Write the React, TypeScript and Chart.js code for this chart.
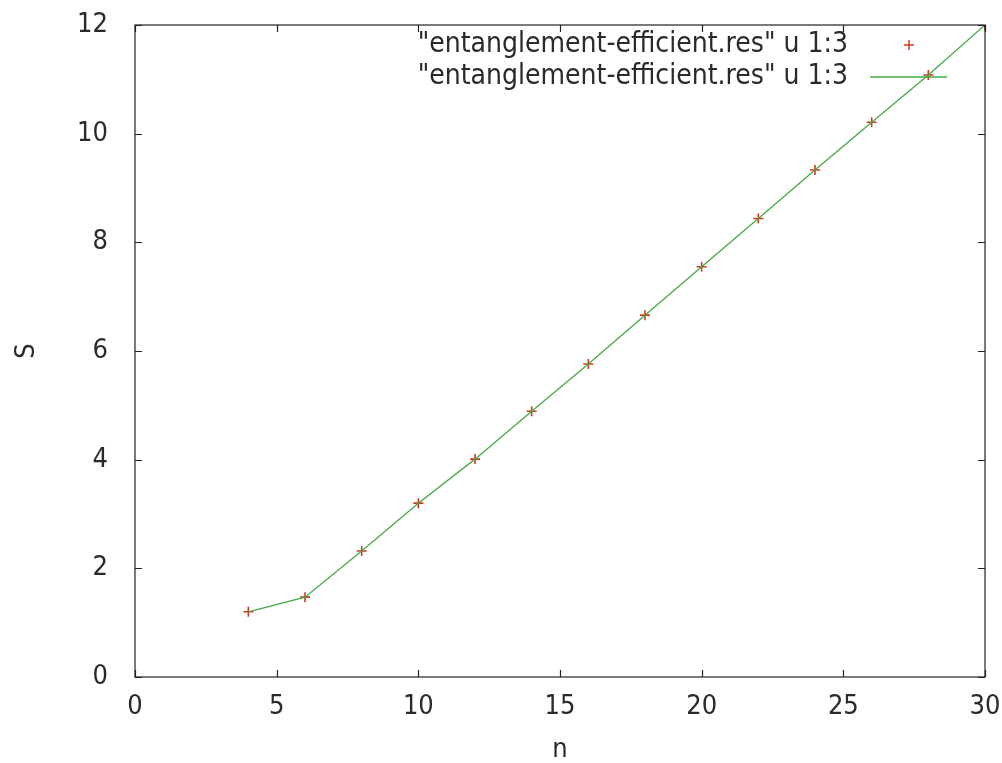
import React, { useEffect, useRef } from "react";
import { Chart, registerables } from "chart.js";

Chart.register(...registerables);

const nValues = [4, 6, 8, 10, 12, 14, 16, 18, 20, 22, 24, 26, 28, 30];
const sValues = [1.2, 1.47, 2.32, 3.2, 4.01, 4.89, 5.76, 6.66, 7.55, 8.44, 9.33, 10.21, 11.08, 12.0];
const legendLabels = ['"entanglement-efficient.res" u 1:3', '"entanglement-efficient.res" u 1:3'];
const xTitle = "n";
const yTitle = "S";

const FONT = '"DejaVu Sans Condensed", "DejaVu Sans", sans-serif';
const TEXT = "#2a2a2a";
const RED = "#cc3a22";
const GREEN = "#44aa44";

const framePlugin = {
  id: "gnuplotFrame",
  afterDatasetsDraw(chart: any) {
    const { ctx, chartArea, scales } = chart;
    const { left, right, top, bottom } = chartArea;
    ctx.save();
    ctx.strokeStyle = "#222";
    ctx.lineWidth = 1.2;
    ctx.strokeRect(left, top, right - left, bottom - top);
    const tl = 7;
    ctx.beginPath();
    scales.x.ticks.forEach((t: any) => {
      const px = Math.round(scales.x.getPixelForValue(t.value)) + 0.5;
      ctx.moveTo(px, bottom);
      ctx.lineTo(px, bottom - tl);
      ctx.moveTo(px, top);
      ctx.lineTo(px, top + tl);
    });
    scales.y.ticks.forEach((t: any) => {
      const py = Math.round(scales.y.getPixelForValue(t.value)) + 0.5;
      ctx.moveTo(left, py);
      ctx.lineTo(left + tl, py);
      ctx.moveTo(right, py);
      ctx.lineTo(right - tl, py);
    });
    ctx.stroke();

    // key (gnuplot style)
    ctx.font = `28px ${FONT}`;
    ctx.fillStyle = TEXT;
    ctx.textAlign = "right";
    ctx.textBaseline = "middle";
    const textRight = 848;
    const row1 = 45;
    const row2 = 77;
    ctx.fillText(legendLabels[0], textRight, row1);
    ctx.fillText(legendLabels[1], textRight, row2);
    ctx.strokeStyle = RED;
    ctx.lineWidth = 1.5;
    ctx.beginPath();
    ctx.moveTo(909 - 5, row1);
    ctx.lineTo(909 + 5, row1);
    ctx.moveTo(909, row1 - 5);
    ctx.lineTo(909, row1 + 5);
    ctx.stroke();
    ctx.strokeStyle = GREEN;
    ctx.lineWidth = 1.3;
    ctx.beginPath();
    ctx.moveTo(870, row2);
    ctx.lineTo(947, row2);
    ctx.stroke();
    ctx.restore();
  },
};

function zeroPad(scale: any) {
  scale.paddingLeft = 0;
  scale.paddingRight = 0;
  scale.paddingTop = 0;
  scale.paddingBottom = 0;
}

export default function App() {
  const ref = useRef<HTMLCanvasElement | null>(null);
  useEffect(() => {
    document.body.style.margin = "0";
    const canvas = ref.current;
    if (!canvas) return;
    const pts = nValues.map((n, i) => ({ x: n, y: sValues[i] }));
    const chart = new Chart(canvas, {
      type: "scatter",
      data: {
        datasets: [
          {
            label: legendLabels[0],
            data: pts,
            showLine: false,
            pointStyle: "cross",
            pointRadius: 5,
            pointBorderWidth: 1.6,
            borderColor: RED,
            backgroundColor: RED,
            order: 2,
          },
          {
            label: legendLabels[1],
            data: pts,
            showLine: true,
            borderColor: GREEN,
            borderWidth: 1.3,
            pointRadius: 0,
            fill: false,
            order: 1,
          },
        ],
      },
      options: {
        responsive: false,
        animation: false,
        devicePixelRatio: 1,
        layout: { padding: { left: 0, top: 25, right: 17, bottom: 0 } },
        plugins: { legend: { display: false }, tooltip: { enabled: false } },
        scales: {
          x: {
            type: "linear",
            min: 0,
            max: 30,
            ticks: {
              stepSize: 5,
              color: TEXT,
              font: { family: FONT, size: 27, lineHeight: 1 },
              padding: 16,
              maxRotation: 0,
            },
            grid: { display: false, drawTicks: false },
            border: { display: false },
            title: {
              display: true,
              text: xTitle,
              color: TEXT,
              font: { family: FONT, size: 27, lineHeight: 1 },
              padding: { top: 0, bottom: 0 },
            },
            afterFit(scale: any) {
              scale.height = 86;
              zeroPad(scale);
            },
          },
          y: {
            type: "linear",
            min: 0,
            max: 12,
            ticks: {
              stepSize: 2,
              color: TEXT,
              font: { family: FONT, size: 27, lineHeight: 1 },
              padding: 27,
            },
            grid: { display: false, drawTicks: false },
            border: { display: false },
            title: {
              display: true,
              text: yTitle,
              color: TEXT,
              font: { family: FONT, size: 27, lineHeight: 1 },
              padding: { top: 13, bottom: 0 },
            },
            afterFit(scale: any) {
              scale.width = 135;
              zeroPad(scale);
            },
          },
        },
      },
      plugins: [framePlugin],
    });
    return () => chart.destroy();
  }, []);
  return (
    <div style={{ position: "absolute", left: 0, top: 0, width: 1002, height: 763, background: "#fff" }}>
      <canvas ref={ref} width={1002} height={763} style={{ display: "block" }} />
    </div>
  );
}
